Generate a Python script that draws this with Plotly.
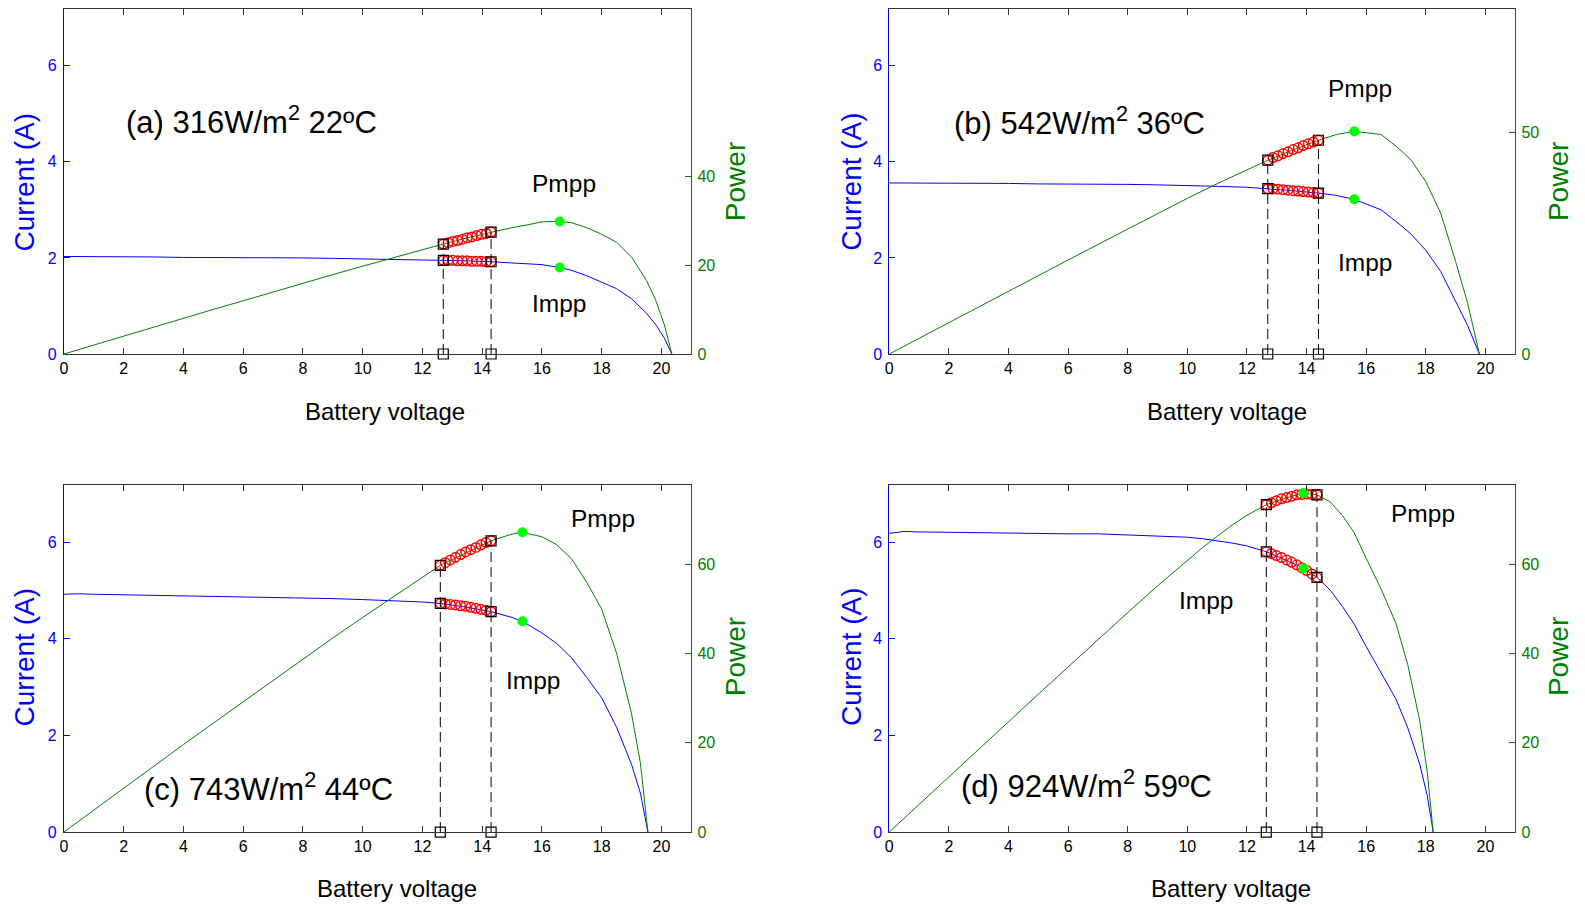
import plotly.graph_objects as go

# ---------------- data ----------------
panel_labels = ["(a) 316W/m<sup>2</sup> 22ºC", "(b) 542W/m<sup>2</sup> 36ºC",
                "(c) 743W/m<sup>2</sup> 44ºC", "(d) 924W/m<sup>2</sup> 59ºC"]

# panel (a)
volt_a = [0, 1, 2, 3, 4, 5, 6, 7, 8, 9, 10, 11, 12, 12.7, 13.5, 14.3, 15, 15.5, 16, 16.6, 17, 17.5, 18, 18.5, 19, 19.5, 19.8, 20.1, 20.35]
curr_a = [2.03, 2.03, 2.03, 2.02, 2.01, 2.01, 2.00, 2.00, 2.00, 1.99, 1.98, 1.97, 1.96, 1.95, 1.94, 1.92, 1.90, 1.88, 1.86, 1.80, 1.74, 1.63, 1.50, 1.36, 1.15, 0.85, 0.62, 0.33, 0.0]
power_a = [0, 2.03, 4.06, 6.06, 8.04, 10.05, 12.0, 14.0, 16.0, 17.9, 19.8, 21.7, 23.5, 24.8, 26.2, 27.5, 28.5, 29.1, 29.8, 29.9, 29.6, 28.5, 27.0, 25.2, 21.9, 16.6, 12.3, 6.6, 0]

# panel (b)
volt_b = [0, 1, 2, 3, 4, 5, 6, 7, 8, 9, 10, 11, 12, 12.7, 13.5, 14.4, 15, 15.6, 16, 16.5, 17, 17.5, 18, 18.5, 19, 19.4, 19.8]
curr_b = [3.56, 3.56, 3.56, 3.55, 3.55, 3.54, 3.54, 3.53, 3.53, 3.52, 3.51, 3.49, 3.47, 3.44, 3.40, 3.35, 3.30, 3.22, 3.12, 3.00, 2.76, 2.50, 2.16, 1.72, 1.10, 0.60, 0.0]
power_b = [0, 3.56, 7.12, 10.65, 14.2, 17.7, 21.2, 24.7, 28.2, 31.7, 35.1, 38.4, 41.6, 43.7, 45.9, 48.2, 49.5, 50.2, 49.9, 49.5, 46.9, 43.8, 38.9, 31.8, 20.9, 11.6, 0]

# panel (c)
volt_c = [0, 0.5, 1, 2, 3, 4, 5, 6, 7, 8, 9, 10, 11, 12, 12.6, 13.5, 14.3, 15, 15.35, 16, 16.5, 17, 17.5, 18, 18.5, 19, 19.3, 19.55]
curr_c = [4.92, 4.93, 4.92, 4.91, 4.90, 4.89, 4.88, 4.87, 4.86, 4.85, 4.83, 4.81, 4.79, 4.76, 4.73, 4.65, 4.56, 4.44, 4.36, 4.12, 3.90, 3.60, 3.20, 2.78, 2.17, 1.40, 0.80, 0.0]
power_c = [0, 2.47, 4.92, 9.82, 14.7, 19.6, 24.4, 29.2, 34.0, 38.8, 43.5, 48.1, 52.7, 57.1, 59.8, 62.8, 65.3, 66.8, 67.2, 66.2, 64.4, 61.2, 56.0, 50.0, 40.1, 26.6, 15.4, 0]

# panel (d)
volt_d = [0, 0.5, 1, 2, 3, 4, 5, 6, 7, 8, 9, 10, 10.5, 11, 11.5, 12, 12.65, 13.3, 13.9, 14.35, 14.8, 15.2, 15.6, 16, 16.5, 17, 17.4, 17.8, 18.05, 18.25]
curr_d = [6.18, 6.22, 6.21, 6.20, 6.20, 6.19, 6.18, 6.17, 6.17, 6.15, 6.13, 6.10, 6.07, 6.03, 5.98, 5.92, 5.80, 5.63, 5.46, 5.27, 5.00, 4.67, 4.30, 3.84, 3.30, 2.75, 2.15, 1.40, 0.75, 0.0]
power_d = [0, 3.11, 6.21, 12.4, 18.6, 24.8, 30.9, 37.0, 43.2, 49.2, 55.2, 61.0, 63.7, 66.3, 68.8, 71.0, 73.4, 74.9, 76.0, 75.6, 74.0, 71.0, 67.1, 61.4, 54.5, 46.8, 37.4, 24.9, 13.5, 0]

# tracked operating points (red circles) between the two window limits
track_v_a = [12.7, 12.86, 13.02, 13.18, 13.34, 13.5, 13.66, 13.82, 13.98, 14.14, 14.3]
track_i_a = [1.95, 1.95, 1.95, 1.94, 1.94, 1.94, 1.93, 1.93, 1.93, 1.92, 1.92]
track_p_a = [24.8, 25.1, 25.4, 25.6, 25.9, 26.2, 26.4, 26.7, 27.0, 27.2, 27.5]

track_v_b = [12.7, 12.87, 13.04, 13.21, 13.38, 13.55, 13.72, 13.89, 14.06, 14.23, 14.4]
track_i_b = [3.44, 3.44, 3.43, 3.42, 3.41, 3.40, 3.39, 3.38, 3.37, 3.36, 3.35]
track_p_b = [43.7, 44.3, 44.7, 45.2, 45.6, 46.1, 46.5, 47.0, 47.4, 47.8, 48.2]

track_v_c = [12.6, 12.77, 12.94, 13.11, 13.28, 13.45, 13.62, 13.79, 13.96, 14.13, 14.3]
track_i_c = [4.73, 4.72, 4.71, 4.70, 4.68, 4.67, 4.65, 4.63, 4.61, 4.59, 4.56]
track_p_c = [59.8, 60.4, 61.0, 61.6, 62.2, 62.8, 63.3, 63.8, 64.4, 64.9, 65.3]

track_v_d = [12.65, 12.82, 12.99, 13.16, 13.33, 13.5, 13.67, 13.84, 14.01, 14.18, 14.35]
track_i_d = [5.80, 5.76, 5.72, 5.68, 5.63, 5.58, 5.53, 5.47, 5.41, 5.34, 5.27]
track_p_d = [73.4, 73.8, 74.3, 74.7, 75.0, 75.3, 75.6, 75.7, 75.8, 75.7, 75.6]

# window limits (black squares): voltage, current, power
limit_v = [[12.7, 14.3], [12.7, 14.4], [12.6, 14.3], [12.65, 14.35]]
limit_i = [[1.95, 1.92], [3.44, 3.35], [4.73, 4.56], [5.80, 5.27]]
limit_p = [[24.8, 27.5], [43.7, 48.2], [59.8, 65.3], [73.4, 75.6]]

# maximum power points (green dots): voltage, current, power
mpp_v = [16.6, 15.6, 15.35, 13.9]
mpp_i = [1.80, 3.22, 4.36, 5.46]
mpp_p = [29.9, 50.2, 67.2, 76.0]

x_ticks = [0, 2, 4, 6, 8, 10, 12, 14, 16, 18, 20]
current_ticks = [0, 2, 4, 6]
power_ticks = [[0, 20, 40], [0, 50], [0, 20, 40, 60], [0, 20, 40, 60]]

# text label positions in data units (x, y)
label_pos = [(6.28, 4.88), (6.38, 4.84), (6.86, 0.94), (6.61, 0.985)]
pmpp_pos = [(16.74, 3.54), (15.78, 5.52), (18.06, 6.49), (17.91, 6.59)]
impp_pos = [(16.58, 1.06), (15.97, 1.90), (15.7, 3.14), (10.64, 4.79)]

volts = [volt_a, volt_b, volt_c, volt_d]
currs = [curr_a, curr_b, curr_c, curr_d]
powers = [power_a, power_b, power_c, power_d]
track_v = [track_v_a, track_v_b, track_v_c, track_v_d]
track_i = [track_i_a, track_i_b, track_i_c, track_i_d]
track_p = [track_p_a, track_p_b, track_p_c, track_p_d]

# ---------------- styling / layout ----------------
W, H = 1585, 905
SY = 1.0101          # compensates the slight vertical squeeze of the capture
BLUE = "#0000ff"
GREEN = "#008000"
AXC = "#333333"
FONT = "Liberation Sans, Arial, sans-serif"
X_RANGE = [0, 21]
I_RANGE = [0, 7.18]
P_RANGE = [0, 77.8]


def px(x):
    return x / W


def py(y):
    return 1 - (y * SY) / H


x_domains = [[px(60), px(689)], [px(887.5), px(1515)]]
y_domains = [[py(354), py(9)], [py(832), py(485)]]

fig = go.Figure()
layout = dict(width=W, height=H, margin=dict(l=0, r=0, t=0, b=0),
              paper_bgcolor="white", plot_bgcolor="white", showlegend=False,
              font=dict(family=FONT, color="black"))
annotations = []

for k in range(4):
    col, row = k % 2, k // 2
    xn = "x" if k == 0 else f"x{k + 1}"
    yi = 3 * k + 1
    yl = "y" if yi == 1 else f"y{yi}"
    yp = f"y{yi + 1}"

    layout["xaxis" if k == 0 else f"xaxis{k + 1}"] = dict(
        domain=x_domains[col], anchor=yl, range=X_RANGE, tickvals=x_ticks,
        showline=True, linecolor=AXC, linewidth=1, mirror="ticks",
        ticks="inside", ticklen=6, tickcolor=AXC, showgrid=False, zeroline=False,
        tickfont=dict(size=16, color="black", family=FONT))
    layout["yaxis" if yi == 1 else f"yaxis{yi}"] = dict(
        domain=y_domains[row], anchor=xn, range=I_RANGE, tickvals=current_ticks,
        showline=True, linecolor=BLUE, linewidth=1, ticks="inside", ticklen=6,
        tickcolor=BLUE, showgrid=False, zeroline=False, ticklabelstandoff=3,
        tickfont=dict(size=16, color=BLUE, family=FONT))
    layout[f"yaxis{yi + 1}"] = dict(
        overlaying=yl, side="right", anchor=xn, range=P_RANGE, tickvals=power_ticks[k],
        showline=True, linecolor=GREEN, linewidth=1, ticks="inside", ticklen=6,
        tickcolor=GREEN, showgrid=False, zeroline=False, ticklabelstandoff=2,
        tickfont=dict(size=16, color=GREEN, family=FONT))
    layout[f"yaxis{yi + 2}"] = dict(
        overlaying=yl, side="right", anchor=xn, range=I_RANGE, tickvals=current_ticks,
        showline=False, ticks="inside", ticklen=6, tickcolor=BLUE,
        showticklabels=False, showgrid=False, zeroline=False)

    # curves
    fig.add_trace(go.Scatter(x=volts[k], y=currs[k], mode="lines",
                             line=dict(color=BLUE, width=1), xaxis=xn, yaxis=yl))
    fig.add_trace(go.Scatter(x=volts[k], y=powers[k], mode="lines",
                             line=dict(color=GREEN, width=1), xaxis=xn, yaxis=yp))
    # dashed window lines
    v1, v2 = limit_v[k]
    p1, p2 = limit_p[k]
    fig.add_trace(go.Scatter(x=[v1, v1, None, v2, v2], y=[0, p1, None, 0, p2],
                             mode="lines", line=dict(color="black", width=1, dash="10px,5px"),
                             xaxis=xn, yaxis=yp))
    # tracked points
    circ = dict(symbol="circle-open", size=9.5, color="red", line=dict(width=1.5, color="red"))
    fig.add_trace(go.Scatter(x=track_v[k], y=track_i[k], mode="markers", marker=circ,
                             xaxis=xn, yaxis=yl, cliponaxis=False))
    fig.add_trace(go.Scatter(x=track_v[k], y=track_p[k], mode="markers", marker=circ,
                             xaxis=xn, yaxis=yp, cliponaxis=False))
    # window squares
    sq = dict(symbol="square-open", size=10, color="black", line=dict(width=1.2, color="black"))
    fig.add_trace(go.Scatter(x=[v1, v2, v1, v2], y=[0, 0] + limit_i[k], mode="markers",
                             marker=sq, xaxis=xn, yaxis=yl, cliponaxis=False))
    fig.add_trace(go.Scatter(x=[v1, v2], y=limit_p[k], mode="markers",
                             marker=sq, xaxis=xn, yaxis=yp, cliponaxis=False))
    # maximum power point
    dot = dict(symbol="circle", size=10, color="#00ff00", line=dict(width=0))
    fig.add_trace(go.Scatter(x=[mpp_v[k]], y=[mpp_i[k]], mode="markers", marker=dot,
                             xaxis=xn, yaxis=yl, cliponaxis=False))
    fig.add_trace(go.Scatter(x=[mpp_v[k]], y=[mpp_p[k]], mode="markers", marker=dot,
                             xaxis=xn, yaxis=yp, cliponaxis=False))

    # in-plot text
    annotations.append(dict(text=panel_labels[k], x=label_pos[k][0], y=label_pos[k][1],
                            xref=xn, yref=yl, xanchor="center", yanchor="middle", showarrow=False,
                            font=dict(size=31, color="black", family=FONT)))
    annotations.append(dict(text="Pmpp", x=pmpp_pos[k][0], y=pmpp_pos[k][1],
                            xref=xn, yref=yl, xanchor="center", yanchor="middle", showarrow=False,
                            font=dict(size=24.5, color="black", family=FONT)))
    annotations.append(dict(text="Impp", x=impp_pos[k][0], y=impp_pos[k][1],
                            xref=xn, yref=yl, xanchor="center", yanchor="middle", showarrow=False,
                            font=dict(size=24.5, color="black", family=FONT)))

    # axis titles
    cx_left = [px(20.5), px(849)][col]
    cx_right = [px(733), px(1558)][col]
    cy = [py(182), py(657)][row]
    annotations.append(dict(text="Current (A)", x=cx_left, y=cy, xref="paper", yref="paper",
                            xanchor="center", yanchor="middle", textangle=-90, showarrow=False,
                            font=dict(size=28, color=BLUE, family=FONT)))
    annotations.append(dict(text="Power", x=cx_right, y=cy, xref="paper", yref="paper",
                            xanchor="center", yanchor="middle", textangle=-90, showarrow=False,
                            font=dict(size=28, color=GREEN, family=FONT)))
    bx = [[px(382), px(1226)], [px(394), px(1230)]][row][col]
    by = [py(411), py(888)][row]
    annotations.append(dict(text="Battery voltage", x=bx, y=by, xref="paper", yref="paper",
                            xanchor="center", yanchor="middle", showarrow=False,
                            font=dict(size=24, color="black", family=FONT)))

layout["annotations"] = annotations
fig.update_layout(**layout)
fig.write_html("out.html", config={"displayModeBar": False},
               post_script="document.body.style.margin='0px';document.body.style.overflow='hidden';")
